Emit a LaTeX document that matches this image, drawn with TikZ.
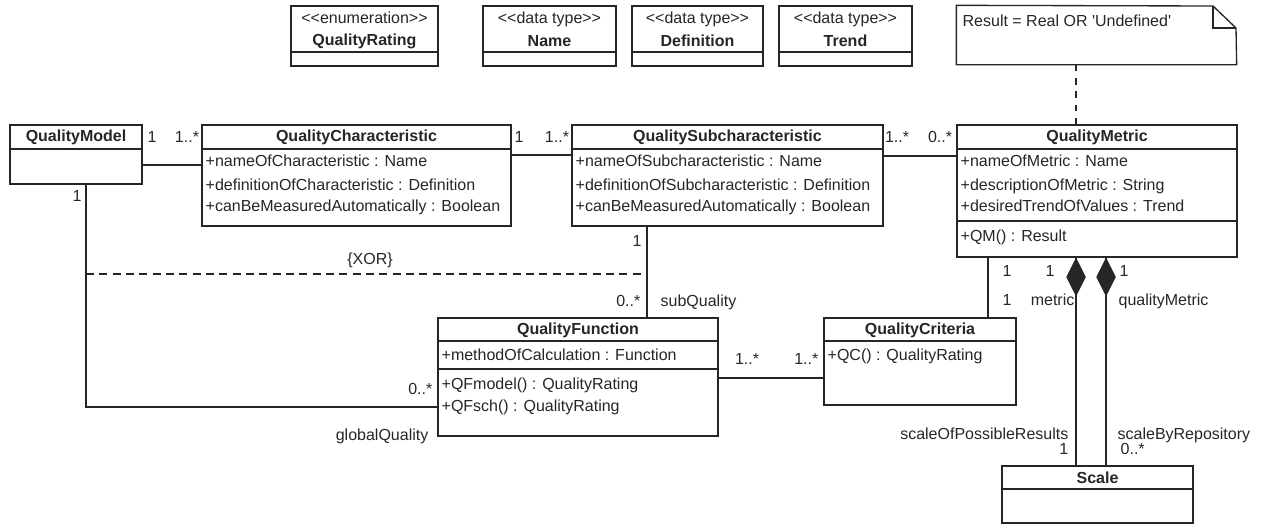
\documentclass[tikz,border=0pt]{standalone}
\usepackage{fontspec}
\setmainfont{Liberation Sans}[Ligatures=TeXOff]
\usetikzlibrary{fit}
\colorlet{umlline}{black!85}
\colorlet{umltext}{black!85}

\begin{document}
\begin{tikzpicture}[x=0.75pt,y=-0.75pt,line width=1pt,draw=umlline,
  font=\fontsize{12}{14}\selectfont,text=umltext,
  classbox/.style={draw=umlline,fill=white,inner sep=0pt},
  cname/.style={font=\fontsize{12}{14}\selectfont\bfseries,inner sep=0pt},
  member/.style={anchor=west,inner sep=0pt,text height=8.4pt,text depth=2.4pt},
  mult/.style={inner sep=0pt,text height=8.4pt,text depth=2.4pt}]

  \useasboundingbox (0,0) rectangle (1264,525);

% data types
  \node[classbox, fit={(291,6) (438,66)}] (rating) {};
  \draw (rating.west |- 0,52) -- (rating.east |- 0,52);
  \node[mult] (rating_s) at (364.5,19) {<<enumeration>>};
  \node[cname] (rating_n) at (364.5,41) {QualityRating};

  \node[classbox, fit={(483,6) (616,66)}] (name) {};
  \draw (name.west |- 0,52) -- (name.east |- 0,52);
  \node[mult] (name_s) at (549.5,19) {<<data type>>};
  \node[cname] (name_n) at (549.5,41) {Name};

  \node[classbox, fit={(632,6) (763,66)}] (definition) {};
  \draw (definition.west |- 0,52) -- (definition.east |- 0,52);
  \node[mult] (definition_s) at (697.5,19) {<<data type>>};
  \node[cname] (definition_n) at (697.5,41) {Definition};

  \node[classbox, fit={(779,6) (912,66)}] (trend) {};
  \draw (trend.west |- 0,52) -- (trend.east |- 0,52);
  \node[mult] (trend_s) at (845.5,19) {<<data type>>};
  \node[cname] (trend_n) at (845.5,41) {Trend};

% note
  \node[inner sep=0pt, fit={(957,6) (1236,64)}] (note) {};
  \draw[fill=white] (note.north west) -- (1213,6) -- (1236,28) -- (note.south east) -- (note.south west) -- cycle;
  \draw (1213,6) -- (1213,28) -- (1236,28);
  \node[member] (note_t) at (962,22) {Result = Real OR 'Undefined'};

% classes
  \node[classbox, fit={(10,125) (142,184)}] (model) {};
  \draw (model.west |- 0,149) -- (model.east |- 0,149);
  \node[cname] (model_n) at (76,137) {QualityModel};

  \node[classbox, fit={(202,125) (511,226)}] (charac) {};
  \draw (charac.west |- 0,149) -- (charac.east |- 0,149);
  \node[cname] (charac_n) at (356.5,137) {QualityCharacteristic};
  \node[member] (charac_a1) at (205,162) {+nameOfCharacteristic : Name};
  \node[member] (charac_a2) at (205,186) {+definitionOfCharacteristic : Definition};
  \node[member] (charac_a3) at (205,207) {+canBeMeasuredAutomatically : Boolean};

  \node[classbox, fit={(572,125) (883,226)}] (subcharac) {};
  \draw (subcharac.west |- 0,149) -- (subcharac.east |- 0,149);
  \node[cname] (subcharac_n) at (727.5,137) {QualitySubcharacteristic};
  \node[member] (subcharac_a1) at (575,162) {+nameOfSubcharacteristic : Name};
  \node[member] (subcharac_a2) at (575,186) {+definitionOfSubcharacteristic : Definition};
  \node[member] (subcharac_a3) at (575,207) {+canBeMeasuredAutomatically : Boolean};

  \node[classbox, fit={(957,125) (1237,257)}] (metric) {};
  \draw (metric.west |- 0,149) -- (metric.east |- 0,149);
  \draw (metric.west |- 0,221) -- (metric.east |- 0,221);
  \node[cname] (metric_n) at (1097,137) {QualityMetric};
  \node[member] (metric_a1) at (960,162) {+nameOfMetric : Name};
  \node[member] (metric_a2) at (960,186) {+descriptionOfMetric : String};
  \node[member] (metric_a3) at (960,207) {+desiredTrendOfValues : Trend};
  \node[member] (metric_o1) at (960,237) {+QM() : Result};

  \node[classbox, fit={(438,318) (718,436)}] (func) {};
  \draw (func.west |- 0,341) -- (func.east |- 0,341);
  \draw (func.west |- 0,369) -- (func.east |- 0,369);
  \node[cname] (func_n) at (578,330) {QualityFunction};
  \node[member] (func_a1) at (441,356) {+methodOfCalculation : Function};
  \node[member] (func_o1) at (441,385) {+QFmodel() : QualityRating};
  \node[member] (func_o2) at (441,407) {+QFsch() : QualityRating};

  \node[classbox, fit={(824,318) (1016,405)}] (crit) {};
  \draw (crit.west |- 0,341) -- (crit.east |- 0,341);
  \node[cname] (crit_n) at (920,330) {QualityCriteria};
  \node[member] (crit_o1) at (827,356) {+QC() : QualityRating};

  \node[classbox, fit={(1002,466) (1193,523)}] (scale) {};
  \draw (scale.west |- 0,489) -- (scale.east |- 0,489);
  \node[cname] (scale_n) at (1097.5,478) {Scale};

% associations
  \draw (model.east |- 0,165) -- (charac.west |- 0,165);
  \node[mult] (m1) at (152,138) {1};
  \node[mult] (m2) at (187,138) {1..*};

  \draw (charac.east |- 0,155) -- (subcharac.west |- 0,155);
  \node[mult] (m3) at (519,138) {1};
  \node[mult] (m4) at (557,138) {1..*};

  \draw (subcharac.east |- 0,156) -- (metric.west |- 0,156);
  \node[mult] (m5) at (897,138) {1..*};
  \node[mult] (m6) at (940,138) {0..*};

  \draw (subcharac.south -| 647,0) -- (func.north -| 647,0);
  \node[mult] (m7) at (637,242) {1};
  \node[mult,anchor=east] (m8) at (641,302) {0..*};
  \node[mult,anchor=west] (subq) at (660,302) {subQuality};

  \draw (model.south -| 86,0) |- (func.west |- 0,407);
  \node[mult] (m9) at (77,197) {1};
  \node[mult,anchor=east] (m10) at (433,390) {0..*};
  \node[mult,anchor=east] (globq) at (429,436) {globalQuality};

%  XOR constraint
  \coordinate (xor_l) at (86,274);
  \coordinate (xor_r) at (647,274);
  \draw[dash pattern=on 6pt off 4pt] (xor_l) -- (xor_r);
  \node[mult] (xor) at (370,260) {\{XOR\}};

  \draw (func.east |- 0,378) -- (crit.west |- 0,378);
  \node[mult] (m11) at (747,360) {1..*};
  \node[mult,anchor=east] (m12) at (819,360) {1..*};

  \draw (metric.south -| 988,0) -- (crit.north -| 988,0);
  \node[mult] (m13) at (1007,272) {1};
  \node[mult] (m14) at (1007,301) {1};

%  compositions
  \coordinate (d1) at (1076,259);
  \coordinate (d2) at (1106,259);
  \draw (metric.south -| d1) -- (scale.north -| d1);
  \draw (metric.south -| d2) -- (scale.north -| d2);
  \draw[fill=umlline] (d1) -- ++(9,18) -- ++(-9,18) -- ++(-9,-18) -- cycle;
  \draw[fill=umlline] (d2) -- ++(9,18) -- ++(-9,18) -- ++(-9,-18) -- cycle;
  \node[mult] (m15) at (1050,272) {1};
  \node[mult,anchor=east] (metricrole) at (1075,301) {metric};
  \node[mult,anchor=east] (possres) at (1069,435) {scaleOfPossibleResults};
  \node[mult,anchor=east] (m16) at (1069,450) {1};
  \node[mult] (m17) at (1124,272) {1};
  \node[mult,anchor=west] (qmrole) at (1118,301) {qualityMetric};
  \node[mult,anchor=west] (byrepo) at (1117,435) {scaleByRepository};
  \node[mult,anchor=west] (m18) at (1120,450) {0..*};

%  note link
  \draw[dash pattern=on 5pt off 5pt] (note.south -| 1076,0) -- (metric.north -| 1076,0);

\end{tikzpicture}
\end{document}
